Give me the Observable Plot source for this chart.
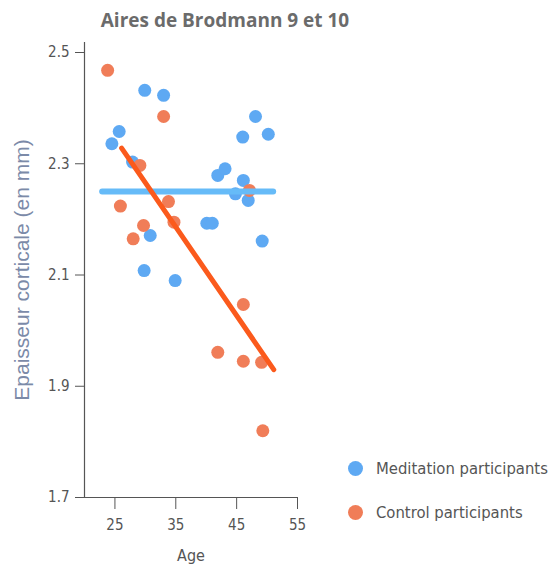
<!DOCTYPE html>
<html>
<head>
<meta charset="utf-8">
<script src="https://cdn.jsdelivr.net/npm/d3@7"></script>
<script src="https://cdn.jsdelivr.net/npm/@observablehq/plot@0.6"></script>
<style>
  body { margin: 0; background: #fff; }
  #wrap { position: relative; width: 549px; height: 570px; }
  #title { position: absolute; left: 0; width: 450px; top: 7px; text-align: center;
    font: bold 19px "Open Sans", sans-serif; color: #6b6b6b; }
  .leg { position: absolute; left: 348px; white-space: nowrap; font-family: "DejaVu Sans", sans-serif; font-stretch: condensed; font-size: 16.5px; color: #555; display: flex; align-items: center; }
  .leg span.d { display: inline-block; width: 15px; height: 15px; border-radius: 50%; margin-right: 13px; }
  svg text { font-stretch: condensed; }
</style>
</head>
<body>
<div id="wrap">
  <div id="title"></div>
  <div id="chart"></div>
  <div id="legend"></div>
</div>
<script>
const title = "Aires de Brodmann 9 et 10";
const yLabel = "Epaisseur corticale (en mm)";
const xLabel = "Age";
const seriesNames = ["Meditation participants", "Control participants"];
const seriesColors = ["#5ea9f3", "#f07d58"];
const lineColors = ["#66bbf8", "#fb5a1c"];
const xTicks = [25, 35, 45, 55];
const yTicks = [1.7, 1.9, 2.1, 2.3, 2.5];

// Meditation participants: [age, thickness]
const meditationAge = [25.7, 24.5, 29.9, 33.0, 27.9, 29.8, 30.8, 34.9, 40.1, 41.0, 41.9, 43.1, 46.0, 48.1, 50.2, 46.1, 44.8, 46.9, 49.2];
const meditationVal = [2.358, 2.336, 2.432, 2.423, 2.303, 2.108, 2.171, 2.090, 2.193, 2.193, 2.279, 2.291, 2.348, 2.385, 2.353, 2.270, 2.246, 2.234, 2.161];
// Control participants
const controlAge = [23.8, 33.0, 29.1, 25.9, 33.8, 29.7, 34.7, 28.0, 47.1, 46.1, 41.9, 46.1, 49.1, 49.3];
const controlVal = [2.468, 2.385, 2.297, 2.224, 2.232, 2.189, 2.195, 2.165, 2.252, 2.047, 1.961, 1.945, 1.943, 1.820];

// Fitted trend lines (endpoints)
const meditationFitAge = [22.9, 51.0];
const meditationFitVal = [2.25, 2.25];
const controlFitAge = [26.1, 51.1];
const controlFitVal = [2.328, 1.930];

const pts = [
  ...meditationAge.map((a, i) => ({age: a, val: meditationVal[i], g: 0})),
  ...controlAge.map((a, i) => ({age: a, val: controlVal[i], g: 1}))
];
const medFit = meditationFitAge.map((a, i) => ({age: a, val: meditationFitVal[i]}));
const ctlFit = controlFitAge.map((a, i) => ({age: a, val: controlFitVal[i]}));

const tickFont = "DejaVu Sans, sans-serif";

const chart = Plot.plot({
  width: 549,
  height: 570,
  marginLeft: 84,
  marginRight: 252,
  marginTop: 42,
  marginBottom: 73,
  x: {domain: [20, 55]},
  y: {domain: [1.7, 2.518]},
  style: {fontFamily: tickFont, fontSize: "15px", color: "#555"},
  marks: [
    Plot.ruleX([20], {stroke: "#555", strokeWidth: 1.2}),
    Plot.ruleY([1.7], {stroke: "#555", strokeWidth: 1.2}),
    Plot.axisX({ticks: xTicks, tickSize: 12, tickPadding: 10, tickFormat: d => String(d), stroke: "#555", fill: "#555", label: null}),
    Plot.axisX({ticks: [], label: xLabel, labelAnchor: "center", labelArrow: "none", labelOffset: 63, fill: "#555", fontSize: 16}),
    Plot.axisY({ticks: yTicks, tickSize: 9, tickPadding: 6, tickFormat: d => d.toFixed(1), stroke: "#555", fill: "#555", label: null}),
    Plot.axisY({ticks: [], label: yLabel, labelAnchor: "center", labelArrow: "none", labelOffset: 70,
      fill: "#7b8aa8", fontFamily: "Liberation Sans, Arial, sans-serif", fontSize: 21}),
    Plot.dot(pts.filter(d => d.g === 0), {x: "age", y: "val", r: 6.5, fill: seriesColors[0]}),
    Plot.dot(pts.filter(d => d.g === 1), {x: "age", y: "val", r: 6.5, fill: seriesColors[1]}),
    Plot.line(medFit, {x: "age", y: "val", stroke: lineColors[0], strokeWidth: 6}),
    Plot.line(ctlFit, {x: "age", y: "val", stroke: lineColors[1], strokeWidth: 5})
  ]
});
document.getElementById("chart").appendChild(chart);
document.getElementById("title").textContent = title;

const legend = document.getElementById("legend");
const legendTops = [459, 503];
seriesNames.forEach((name, i) => {
  const row = document.createElement("div");
  row.className = "leg";
  row.style.top = legendTops[i] + "px";
  const dot = document.createElement("span");
  dot.className = "d";
  dot.style.background = seriesColors[i];
  row.appendChild(dot);
  const t = document.createElement("span");
  t.textContent = name;
  row.appendChild(t);
  legend.appendChild(row);
});
</script>
</body>
</html>
